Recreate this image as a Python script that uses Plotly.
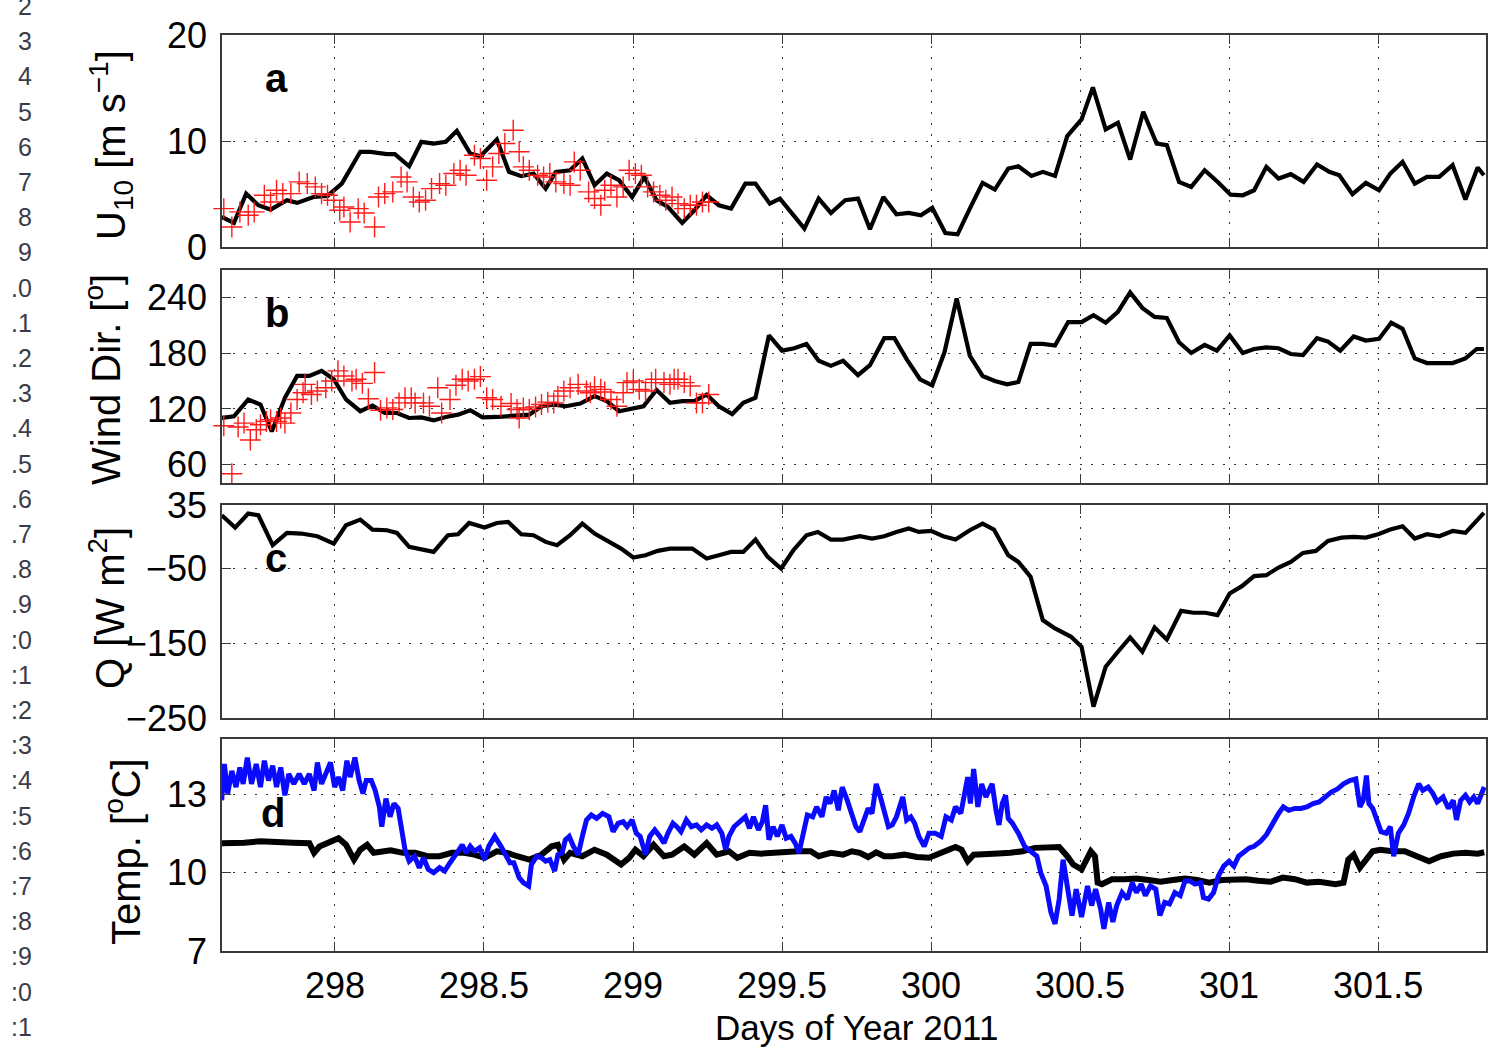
import plotly.graph_objects as go

# ---------------- data ----------------
# (a) 10 m wind speed, hourly model output (black) and ship observations (red +)
u10_t = [297.620, 297.661, 297.702, 297.743, 297.784, 297.839, 297.873, 297.928, 297.975, 298.023,
         298.085, 298.119, 298.174, 298.201, 298.249, 298.290, 298.331, 298.372, 298.409, 298.454,
         298.488, 298.543, 298.584, 298.625, 298.666, 298.707, 298.741, 298.789, 298.830, 298.871,
         298.912, 298.953, 298.997, 299.038, 299.079, 299.117, 299.165, 299.206, 299.247, 299.288,
         299.329, 299.377, 299.411, 299.459, 299.493, 299.575, 299.623, 299.664, 299.712,
         299.755, 299.795, 299.840, 299.884, 299.925, 299.966, 300.004, 300.048, 300.089, 300.130,
         300.173, 300.214, 300.259, 300.293, 300.337, 300.375, 300.416, 300.457, 300.505, 300.543,
         300.586, 300.627, 300.668, 300.712, 300.757, 300.791, 300.832, 300.873, 300.918, 300.962,
         301.005, 301.046, 301.084, 301.125, 301.166, 301.207, 301.250, 301.295, 301.336, 301.370,
         301.414, 301.459, 301.503, 301.541, 301.582, 301.623, 301.664, 301.705, 301.750, 301.793,
         301.834, 301.855]
u10_model = [2.83, 2.27, 5.04, 3.94, 3.53, 4.41, 4.16, 4.72, 4.82, 5.98,
             8.98, 8.98, 8.76, 8.76, 7.62, 9.92, 9.76, 9.92, 10.96, 8.82,
             8.57, 10.14, 7.09, 6.68, 6.93, 5.51, 7.09, 7.24, 8.35, 5.83,
             6.93, 6.30, 4.72, 6.61, 4.41, 3.78, 2.27, 3.46, 4.88, 3.94,
             3.62, 5.98, 5.98, 4.09, 4.57, 1.73, 4.57, 3.21, 4.41,
             4.57, 1.67, 4.72, 3.09, 3.21, 2.99, 3.69, 1.32, 1.20, 3.62,
             6.05, 5.42, 7.40, 7.62, 6.71, 7.09, 6.71, 10.46, 12.03, 15.06,
             11.09, 11.72, 8.25, 12.76, 9.76, 9.61, 6.14, 5.67, 7.24, 6.14,
             4.94, 4.88, 5.35, 7.56, 6.46, 6.87, 6.14, 7.78, 7.09, 6.77,
             4.98, 6.05, 5.35, 6.93, 8.03, 5.98, 6.61, 6.61, 7.72, 4.47,
             7.50, 6.77]

u10_obs_t = [297.627, 297.654, 297.681, 297.709, 297.729, 297.763, 297.784, 297.804, 297.825, 297.852,
             297.880, 297.907, 297.934, 297.955, 297.975, 297.996, 298.016, 298.030, 298.051, 298.078,
             298.098, 298.133, 298.146, 298.167, 298.194, 298.222, 298.242, 298.263, 298.283, 298.304,
             298.324, 298.351, 298.372, 298.399, 298.420, 298.440, 298.468, 298.488, 298.509, 298.529,
             298.550, 298.570, 298.598, 298.618, 298.632, 298.652, 298.680, 298.700, 298.721, 298.741,
             298.768, 298.789, 298.803, 298.823, 298.851, 298.871, 298.892, 298.905, 298.926, 298.946,
             298.967, 298.987, 299.008, 299.028, 299.049, 299.069, 299.090, 299.110, 299.131, 299.151,
             299.172, 299.192, 299.213, 299.233, 299.254]
u10_obs = [3.62, 1.89, 3.31, 2.99, 3.31, 4.88, 4.25, 5.35, 5.04, 5.04,
           6.14, 5.98, 5.67, 5.04, 4.88, 4.41, 3.46, 3.78, 2.36, 3.62,
           3.21, 1.89, 4.72, 5.04, 5.20, 6.61, 6.14, 4.72, 4.25, 4.41,
           5.51, 5.98, 5.83, 6.93, 7.24, 6.77, 8.66, 8.35, 6.30, 7.56,
           8.82, 9.76, 11.02, 8.98, 7.56, 7.24, 6.77, 6.61, 6.93, 6.14,
           5.98, 5.83, 8.03, 7.24, 5.20, 4.57, 3.94, 5.35, 5.83, 4.72,
           5.67, 7.24, 6.93, 6.77, 5.67, 5.20, 4.88, 4.41, 4.72, 4.09,
           3.62, 3.94, 3.94, 4.25, 4.25]

# (b) wind direction
wdir_t = [297.620, 297.661, 297.709, 297.750, 297.788, 297.832, 297.873, 297.914, 297.955, 297.996,
          298.037, 298.085, 298.126, 298.167, 298.208, 298.249, 298.290, 298.331, 298.372, 298.413,
          298.454, 298.495, 298.543, 298.598, 298.652, 298.693, 298.734, 298.775, 298.823, 298.871,
          298.912, 298.953, 298.997, 299.035, 299.079, 299.124, 299.165, 299.206, 299.247, 299.288,
          299.333, 299.370, 299.411, 299.456, 299.500, 299.541, 299.582, 299.623, 299.664, 299.705,
          299.755, 299.795, 299.843, 299.877, 299.918, 299.963, 300.004, 300.045, 300.086, 300.130,
          300.173, 300.214, 300.255, 300.293, 300.334, 300.375, 300.416, 300.460, 300.505, 300.545,
          300.586, 300.627, 300.668, 300.709, 300.750, 300.791, 300.832, 300.873, 300.918, 300.959,
          301.002, 301.046, 301.084, 301.125, 301.166, 301.207, 301.248, 301.295, 301.332, 301.373,
          301.418, 301.459, 301.503, 301.544, 301.582, 301.623, 301.664, 301.705, 301.750, 301.793,
          301.831, 301.855]
wdir_model = [110.2, 112.0, 130.2, 124.7, 95.6, 132.0, 155.6, 155.6, 161.1, 152.0,
              130.2, 117.5, 123.6, 115.6, 115.6, 110.2, 110.9, 107.6, 111.3, 113.8,
              118.5, 110.9, 111.3, 112.7, 113.8, 122.9, 124.7, 122.9, 125.8, 133.8,
              128.4, 117.5, 120.0, 122.9, 140.4, 126.5, 128.4, 128.4, 135.6, 122.9,
              114.5, 126.5, 132.0, 199.3, 182.9, 185.5, 190.2, 172.0, 166.5, 172.0,
              156.4, 167.3, 196.4, 196.4, 173.8, 152.0, 145.5, 181.1, 239.3, 177.5,
              155.6, 150.2, 146.5, 149.1, 190.2, 190.2, 188.4, 213.8, 213.8, 221.1,
              213.1, 224.7, 245.8, 229.1, 219.3, 218.2, 192.0, 180.4, 189.1, 182.9,
              199.3, 180.4, 184.7, 186.5, 185.5, 179.3, 178.2, 196.4, 192.7, 182.9,
              198.2, 193.8, 195.6, 213.1, 206.5, 174.5, 169.5, 169.5, 169.5, 174.5,
              184.7, 184.7]

wdir_obs_t = [297.627, 297.654, 297.675, 297.695, 297.716, 297.736, 297.750, 297.770, 297.784, 297.804,
              297.818, 297.832, 297.852, 297.873, 297.893, 297.900, 297.921, 297.941, 297.969, 297.989,
              298.010, 298.030, 298.057, 298.071, 298.092, 298.112, 298.133, 298.153, 298.174, 298.194,
              298.215, 298.235, 298.256, 298.269, 298.297, 298.317, 298.345, 298.358, 298.386, 298.406,
              298.427, 298.447, 298.468, 298.488, 298.509, 298.529, 298.557, 298.591, 298.611, 298.618,
              298.632, 298.652, 298.673, 298.693, 298.714, 298.734, 298.748, 298.768, 298.789, 298.816,
              298.844, 298.857, 298.871, 298.892, 298.905, 298.926, 298.946, 298.967, 298.980, 299.001,
              299.021, 299.042, 299.062, 299.076, 299.104, 299.124, 299.138, 299.151, 299.172, 299.192,
              299.213, 299.233, 299.254]
wdir_obs = [101.8, 50.0, 100.4, 104.7, 86.5, 97.5, 102.9, 106.5, 108.4, 106.5,
            110.2, 104.7, 115.6, 130.2, 137.5, 146.5, 135.6, 139.3, 142.9, 150.2,
            161.1, 155.6, 150.2, 152.0, 147.6, 130.9, 159.3, 118.5, 121.1, 119.3,
            126.5, 132.0, 132.0, 126.5, 126.5, 122.9, 142.9, 115.6, 130.2, 145.5,
            152.0, 150.2, 152.0, 154.9, 132.0, 130.2, 122.9, 125.8, 119.3, 110.2,
            121.1, 119.3, 122.2, 124.7, 127.3, 126.5, 133.8, 139.3, 142.9, 146.5,
            139.3, 137.5, 144.0, 141.1, 138.2, 130.2, 122.9, 137.5, 148.4, 150.2,
            141.1, 139.3, 148.4, 152.0, 148.4, 146.5, 152.0, 152.0, 148.4, 144.7,
            126.5, 126.5, 135.6]

# (c) net surface heat flux
q_t = [297.620, 297.665, 297.709, 297.743, 297.791, 297.839, 297.887, 297.941, 297.996, 298.037,
       298.085, 298.126, 298.174, 298.208, 298.249, 298.290, 298.331, 298.379, 298.413, 298.450,
       298.502, 298.543, 298.581, 298.625, 298.666, 298.707, 298.745, 298.789, 298.830, 298.871,
       298.912, 298.960, 299.001, 299.042, 299.083, 299.124, 299.199, 299.247, 299.288, 299.329,
       299.370, 299.411, 299.452, 299.497, 299.538, 299.582, 299.620, 299.664, 299.705,
       299.761, 299.802, 299.843, 299.884, 299.925, 299.959, 300.000, 300.041, 300.082, 300.130,
       300.173, 300.211, 300.259, 300.293, 300.334, 300.375, 300.416, 300.470, 300.505, 300.545,
       300.586, 300.627, 300.668, 300.709, 300.750, 300.791, 300.839, 300.880, 300.920, 300.961,
       301.002, 301.043, 301.084, 301.125, 301.166, 301.207, 301.248, 301.291, 301.332, 301.377,
       301.418, 301.459, 301.500, 301.541, 301.582, 301.623, 301.664, 301.705, 301.750, 301.793,
       301.855]
q_flux = [21.3, 4.8, 23.5, 21.3, -18.8, -2.3, -3.2, -6.8, -16.6, 7.9,
          15.5, 2.1, 1.2, -2.3, -21.0, -24.6, -27.7, -5.5, -4.1, 11.0,
          4.8, 11.0, 12.4, -4.1, -5.5, -14.4, -18.8, -5.5, 10.1, -3.2,
          -12.1, -23.3, -35.3, -32.2, -26.4, -23.3, -23.3, -36.6, -32.2, -27.7,
          -27.7, -11.2, -34.4, -50.0, -25.5, -5.5, -1.0, -11.2, -11.2,
          -6.8, -9.9, -6.8, -1.0, 3.5, -1.0, 0.3, -6.8, -11.2, 1.2,
          10.1, 2.1, -32.2, -41.1, -61.1, -119.0, -130.2, -141.3, -154.7, -234.9,
          -181.4, -161.4, -142.2, -161.4, -128.8, -144.9, -106.6, -109.2, -109.2, -112.4,
          -83.4, -73.6, -60.2, -58.9, -48.7, -41.1, -29.1, -26.4, -13.0, -8.6,
          -7.7, -8.6, -4.1, 2.1, 6.6, -9.9, -4.1, -6.8, 0.3, -2.3,
          24.4]

# (d) temperatures: blue and black records
tb_t = [297.620, 297.629, 297.640, 297.654, 297.668, 297.681, 297.692, 297.706, 297.720, 297.736,
        297.750, 297.763, 297.777, 297.791, 297.804, 297.818, 297.832, 297.845, 297.862, 297.880,
        297.897, 297.914, 297.930, 297.941, 297.955, 297.971, 297.985, 297.999, 298.012, 298.026,
        298.040, 298.051, 298.067, 298.081, 298.094, 298.105, 298.122, 298.135, 298.149, 298.157,
        298.171, 298.185, 298.198, 298.212, 298.226, 298.235, 298.249, 298.267, 298.283, 298.297,
        298.313, 298.331, 298.351, 298.368, 298.386, 298.399, 298.413, 298.427, 298.440, 298.454,
        298.468, 298.485, 298.502, 298.516, 298.536, 298.557, 298.573, 298.587, 298.600, 298.618,
        298.632, 298.650, 298.659, 298.677, 298.693, 298.707, 298.721, 298.737, 298.748, 298.762,
        298.773, 298.786, 298.800, 298.816, 298.830, 298.844, 298.860, 298.878, 298.898, 298.919,
        298.933, 298.950, 298.967, 298.980, 298.997, 299.011, 299.024, 299.042, 299.056, 299.073,
        299.090, 299.104, 299.117, 299.134, 299.147, 299.161, 299.179, 299.196, 299.213, 299.229,
        299.247, 299.265, 299.281, 299.298, 299.311, 299.322, 299.339, 299.356, 299.377, 299.391,
        299.404, 299.421, 299.434, 299.445, 299.456, 299.470, 299.484, 299.500, 299.514, 299.530,
        299.544, 299.557, 299.571, 299.585, 299.603, 299.616, 299.634, 299.648, 299.661, 299.675,
        299.689, 299.702, 299.719,
        299.748, 299.761, 299.775, 299.789, 299.802, 299.816, 299.830, 299.843, 299.857, 299.870,
        299.884, 299.905, 299.918, 299.932, 299.945, 299.959, 299.977, 299.993, 300.014, 300.034,
        300.050, 300.068, 300.082, 300.100, 300.113, 300.123, 300.132, 300.143, 300.157, 300.170,
        300.184, 300.205, 300.218, 300.228, 300.239, 300.250, 300.259, 300.273, 300.293, 300.314,
        300.334, 300.355, 300.368, 300.386, 300.402, 300.416, 300.430, 300.443, 300.457, 300.473,
        300.487, 300.505, 300.525, 300.539, 300.552, 300.569, 300.580, 300.596, 300.610, 300.623,
        300.641, 300.659, 300.675, 300.689, 300.705, 300.719, 300.736, 300.754, 300.768, 300.784,
        300.800, 300.818, 300.836, 300.852, 300.869, 300.886, 300.904, 300.914, 300.931, 300.948,
        300.964, 300.982, 301.000, 301.016, 301.032, 301.050, 301.068, 301.084, 301.105, 301.125,
        301.146, 301.166, 301.182, 301.200, 301.221, 301.241, 301.261, 301.282, 301.302, 301.323,
        301.343, 301.364, 301.384, 301.405, 301.425, 301.439, 301.450, 301.461, 301.469, 301.482,
        301.496, 301.510, 301.527, 301.541, 301.552, 301.568, 301.586, 301.602, 301.619, 301.636,
        301.650, 301.668, 301.684, 301.698, 301.718, 301.736, 301.752, 301.763, 301.777, 301.793,
        301.807, 301.821, 301.834, 301.848, 301.856]
temp_blue = [12.77, 14.16, 13.03, 13.90, 13.28, 14.03, 13.40, 14.41, 13.40, 14.16,
             13.28, 14.29, 13.53, 14.10, 13.28, 14.03, 12.96, 13.78, 13.40, 13.78,
             13.40, 13.78, 13.15, 14.22, 13.40, 13.90, 14.22, 13.28, 13.66, 13.15,
             14.29, 13.66, 14.41, 13.53, 13.03, 13.53, 13.53, 13.15, 12.52, 11.76,
             12.84, 12.14, 12.65, 12.46, 11.51, 10.88, 10.44, 10.63, 10.19, 10.57,
             10.13, 10.00, 10.19, 10.06, 10.38, 10.63, 10.82, 11.07, 10.76, 11.01,
             10.82, 10.95, 10.50, 11.01, 11.39, 11.01, 10.69, 10.38, 10.38, 9.81,
             9.62, 9.49, 10.31, 10.63, 10.57, 10.44, 10.50, 10.06, 10.69, 10.76,
             11.26, 11.39, 11.01, 10.69, 11.39, 12.02, 12.21, 12.08, 12.27, 12.14,
             11.57, 11.89, 11.95, 11.76, 12.02, 11.51, 11.39, 10.69, 11.39, 11.64,
             11.39, 11.13, 11.51, 11.89, 11.76, 11.57, 12.02, 11.76, 11.83, 11.64,
             11.83, 11.70, 11.83, 11.51, 10.88, 11.39, 11.76, 11.95, 12.14, 11.70,
             12.14, 11.64, 11.95, 12.58, 11.26, 11.76, 11.39, 11.83, 11.32, 11.39,
             11.13, 10.76, 11.51, 12.21, 12.14, 12.52, 12.14, 12.90, 12.65, 13.15,
             12.39, 13.28, 12.77,
             11.76, 11.57, 12.02, 12.46, 12.27, 13.40, 12.90, 12.27, 11.76, 11.83,
             12.14, 12.90, 12.02, 12.14, 11.89, 11.39, 11.01, 11.51, 11.51, 11.39,
             12.14, 12.02, 12.52, 12.27, 12.96, 13.66, 12.65, 13.97, 12.52, 13.40,
             12.90, 13.40, 12.39, 11.83, 12.65, 12.96, 12.08, 11.89, 11.51, 11.01,
             10.82, 10.63, 10.00, 9.49, 8.49, 8.04, 8.99, 10.50, 9.49, 8.36,
             9.37, 8.30, 9.49, 8.74, 9.37, 8.61, 7.85, 8.86, 8.11, 8.74,
             9.24, 8.99, 9.62, 9.24, 9.56, 9.12, 9.49, 9.37, 8.36, 8.86,
             8.80, 9.24, 9.12, 9.68, 9.68, 9.56, 9.62, 9.05, 8.99, 9.24,
             9.87, 10.25, 10.44, 10.25, 10.63, 10.82, 10.95, 11.01, 11.20, 11.45,
             11.89, 12.27, 12.52, 12.39, 12.46, 12.46, 12.52, 12.65, 12.71, 12.90,
             13.09, 13.21, 13.40, 13.53, 13.59, 12.52, 12.77, 13.72, 12.65, 12.46,
             12.02, 11.57, 11.51, 11.76, 10.63, 11.51, 11.83, 12.27, 12.90, 13.40,
             13.15, 13.28, 13.03, 12.71, 12.90, 12.46, 12.77, 12.02, 12.77, 12.96,
             12.71, 12.90, 12.65, 13.15, 13.28]

tk_t = [297.620, 297.654, 297.695, 297.750, 297.804, 297.859, 297.914, 297.930, 297.948, 297.975,
        298.012, 298.037, 298.064, 298.085, 298.108, 298.130, 298.157, 298.187, 298.228, 298.269,
        298.310, 298.351, 298.392, 298.433, 298.468, 298.502, 298.543, 298.577, 298.611, 298.652,
        298.693, 298.727, 298.748, 298.769, 298.789, 298.830, 298.871, 298.912, 298.960, 298.987,
        299.008, 299.035, 299.069, 299.104, 299.131, 299.172, 299.206, 299.247, 299.281, 299.322,
        299.350, 299.391, 299.432, 299.473, 299.514, 299.555, 299.596, 299.623, 299.664, 299.705,
        299.734, 299.761, 299.789, 299.816, 299.843, 299.870, 299.911, 299.952, 299.993, 300.020,
        300.048, 300.082, 300.102, 300.123, 300.143, 300.184, 300.225, 300.266, 300.307, 300.348,
        300.389, 300.430, 300.457, 300.477, 300.505, 300.518, 300.536, 300.550, 300.559, 300.573,
        300.607, 300.648, 300.689, 300.730, 300.770, 300.811, 300.852, 300.893, 300.934, 300.975,
        301.016, 301.057, 301.098, 301.139, 301.180, 301.221, 301.261, 301.302, 301.357, 301.384,
        301.400, 301.418, 301.439, 301.459, 301.482, 301.507, 301.548, 301.589, 301.630, 301.671,
        301.711, 301.752, 301.793, 301.834, 301.856]
temp_black = [11.13, 11.13, 11.15, 11.20, 11.15, 11.15, 11.13, 10.76, 11.00, 11.15,
              11.32, 11.07, 10.50, 10.88, 11.07, 10.76, 10.82, 10.86, 10.76, 10.76,
              10.63, 10.63, 10.76, 10.76, 10.69, 10.57, 10.82, 10.76, 10.63, 10.50,
              10.69, 11.01, 11.07, 10.50, 10.76, 10.63, 10.88, 10.69, 10.31, 10.57,
              10.88, 10.63, 11.07, 10.63, 10.69, 11.00, 10.69, 11.13, 10.69, 10.82,
              10.57, 10.76, 10.73, 10.76, 10.82, 10.82, 10.82, 10.63, 10.76, 10.69,
              10.82, 10.76, 10.60, 10.78, 10.63, 10.63, 10.69, 10.60, 10.57, 10.69,
              10.82, 10.98, 10.88, 10.44, 10.69, 10.69, 10.73, 10.76, 10.82, 10.95,
              10.95, 10.98, 10.63, 10.31, 10.13, 10.38, 10.82, 10.63, 9.62, 9.56,
              9.75, 9.75, 9.78, 9.72, 9.65, 9.72, 9.78, 9.72, 9.62, 9.72,
              9.72, 9.75, 9.69, 9.65, 9.81, 9.75, 9.62, 9.65, 9.56, 9.62,
              10.50, 10.69, 10.19, 10.50, 10.82, 10.88, 10.82, 10.82, 10.60, 10.44,
              10.63, 10.73, 10.76, 10.73, 10.78]

# axis ticks
day_ticks = [298, 298.5, 299, 299.5, 300, 300.5, 301, 301.5]
day_labels = ["298", "298.5", "299", "299.5", "300", "300.5", "301", "301.5"]
u10_ticks = [0, 10, 20]
wdir_ticks = [60, 120, 180, 240]
q_ticks = [-250, -150, -50, 35]
temp_ticks = [7, 10, 13]

# page line numbers down the left margin
line_numbers = ["2", "3", "4", "5", "6", "7", "8", "9",
                ".0", ".1", ".2", ".3", ".4", ".5", ".6", ".7", ".8", ".9",
                ":0", ":1", ":2", ":3", ":4", ":5", ":6", ":7", ":8", ":9",
                ":0", ":1"]

# ---------------- figure ----------------
W, H = 1491, 1047
FONT = "Liberation Sans, Arial, Helvetica, sans-serif"

def px_x(p):
    return p / W

def px_y(p):
    return 1 - p / H

# panel boxes in pixels: (top, bottom)
boxes = {1: (35, 247), 2: (270, 483), 3: (505, 718), 4: (739, 951)}
x_left, x_right = 222, 1486
x_range = [297.621, 301.862]
y_ranges = {1: [0, 20], 2: [40, 270], 3: [-250, 35], 4: [7, 15.12]}
y_ticks = {1: u10_ticks, 2: wdir_ticks, 3: q_ticks, 4: temp_ticks}

fig = go.Figure()

def ax(i):
    return ("x" if i == 1 else f"x{i}"), ("y" if i == 1 else f"y{i}")

def add_line(i, x, y, color, width):
    xa, ya = ax(i)
    fig.add_trace(go.Scatter(x=x, y=y, mode="lines", xaxis=xa, yaxis=ya,
                             line=dict(color=color, width=width),
                             showlegend=False, hoverinfo="skip"))

def add_cross(i, x, y):
    xa, ya = ax(i)
    fig.add_trace(go.Scatter(x=x, y=y, mode="markers", xaxis=xa, yaxis=ya,
                             marker=dict(symbol="cross-thin", size=15,
                                         line=dict(color="#ff1a1a", width=1.4)),
                             showlegend=False, hoverinfo="skip", cliponaxis=False))

add_line(1, u10_t, u10_model, "black", 4.2)
add_cross(1, u10_obs_t, u10_obs)
add_line(2, wdir_t, wdir_model, "black", 4.2)
add_cross(2, wdir_obs_t, wdir_obs)
add_line(3, q_t, q_flux, "black", 4.2)
add_line(4, tk_t, temp_black, "black", 6)
add_line(4, tb_t, temp_blue, "#0a0aff", 5)

axis_common = dict(
    showline=True, linecolor="#3a3a3a", linewidth=1.5, mirror="allticks",
    ticks="inside", ticklen=9, tickwidth=1.4, tickcolor="#3a3a3a",
    showgrid=True, gridcolor="#333333", gridwidth=1.3, griddash="2px,9px",
    zeroline=False, automargin=False,
    tickfont=dict(family=FONT, size=36, color="black"),
)

layout = dict(template="none", width=W, height=H, margin=dict(l=0, r=0, t=0, b=0, pad=0),
              autosize=False, paper_bgcolor="white", plot_bgcolor="white", showlegend=False)

for i in range(1, 5):
    top, bot = boxes[i]
    xkey = "xaxis" if i == 1 else f"xaxis{i}"
    ykey = "yaxis" if i == 1 else f"yaxis{i}"
    xa, ya = ax(i)
    layout[xkey] = dict(axis_common, domain=[px_x(x_left), px_x(x_right)], range=x_range,
                        anchor=ya, tickvals=day_ticks, ticktext=day_labels,
                        showticklabels=(i == 4), ticklabelstandoff=2)
    layout[ykey] = dict(axis_common, domain=[px_y(bot), px_y(top)], range=y_ranges[i],
                        anchor=xa, tickvals=y_ticks[i], ticklabelstandoff=6)

fig.update_layout(**layout)

annotations = []
# panel letters
for letter, (lx, ly) in zip("abcd", [(276, 78), (277, 313), (276, 558), (273, 813)]):
    annotations.append(dict(text=f"<b>{letter}</b>", x=px_x(lx), y=px_y(ly), xref="paper", yref="paper",
                            showarrow=False, font=dict(family=FONT, size=40, color="black"),
                            xanchor="center", yanchor="middle"))

# y-axis titles
ytitles = [("U<sub>10</sub> [m s<sup>−1</sup>]", 111, 145),
           ("Wind Dir. [<sup>o</sup>]", 103, 380),
           ("Q [W m<sup>2</sup>]", 107, 608),
           ("Temp. [<sup>o</sup>C]", 123, 852)]
for txt, tx, ty in ytitles:
    annotations.append(dict(text=txt, x=px_x(tx), y=px_y(ty), xref="paper", yref="paper",
                            showarrow=False, textangle=-90,
                            font=dict(family=FONT, size=40, color="black"),
                            xanchor="center", yanchor="middle"))

# x-axis title
annotations.append(dict(text="Days of Year 2011", x=px_x(856), y=px_y(1027), xref="paper", yref="paper",
                        showarrow=False, font=dict(family=FONT, size=35, color="black"),
                        xanchor="center", yanchor="middle"))

# margin line numbers
for k, lab in enumerate(line_numbers):
    cy = 6 + 35.2 * k
    annotations.append(dict(text=lab, x=px_x(34), y=px_y(cy), xref="paper", yref="paper",
                            showarrow=False, font=dict(family=FONT, size=25, color="#3c3c48"),
                            xanchor="right", yanchor="middle"))

fig.update_layout(annotations=annotations)

fig.write_html("out.html")
